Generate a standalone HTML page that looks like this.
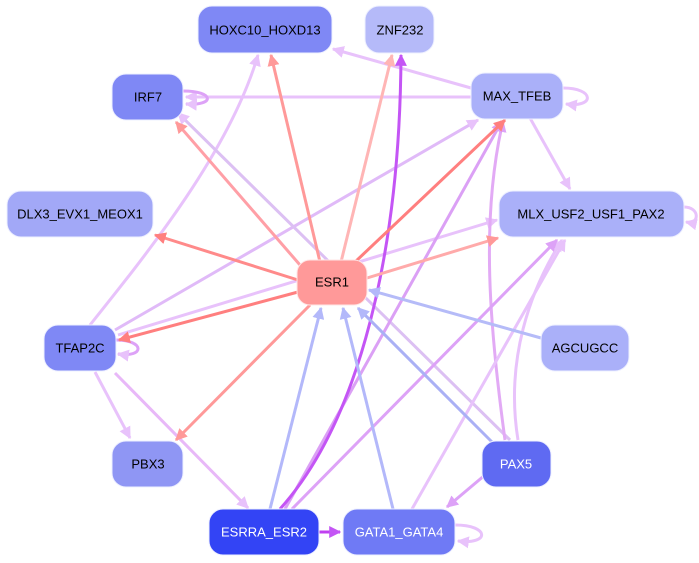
<!DOCTYPE html>
<html><head><meta charset="utf-8"><style>
html,body{margin:0;padding:0;background:#fff;width:699px;height:563px;overflow:hidden}
text{font-family:"Liberation Sans",Helvetica,sans-serif;font-size:13px;text-anchor:middle;dominant-baseline:central}
</style></head><body>
<svg width="699" height="563" viewBox="0 0 699 563" xmlns="http://www.w3.org/2000/svg">
<defs>
<marker id="mp" viewBox="0 0 10 10" refX="9" refY="5" markerWidth="4" markerHeight="4" orient="auto" markerUnits="strokeWidth"><path d="M0,0L10,5L0,10z" fill="#ff9999"/></marker>
<marker id="mr" viewBox="0 0 10 10" refX="9" refY="5" markerWidth="4" markerHeight="4" orient="auto" markerUnits="strokeWidth"><path d="M0,0L10,5L0,10z" fill="#ff7f7f"/></marker>
<marker id="ml" viewBox="0 0 10 10" refX="9" refY="5" markerWidth="4" markerHeight="4" orient="auto" markerUnits="strokeWidth"><path d="M0,0L10,5L0,10z" fill="#ffb5b5"/></marker>
<marker id="mb" viewBox="0 0 10 10" refX="9" refY="5" markerWidth="4" markerHeight="4" orient="auto" markerUnits="strokeWidth"><path d="M0,0L10,5L0,10z" fill="#b3b8fa"/></marker>
<marker id="mv" viewBox="0 0 10 10" refX="9" refY="5" markerWidth="4" markerHeight="4" orient="auto" markerUnits="strokeWidth"><path d="M0,0L10,5L0,10z" fill="#c455f5"/></marker>
<marker id="mq" viewBox="0 0 10 10" refX="9" refY="5" markerWidth="4" markerHeight="4" orient="auto" markerUnits="strokeWidth"><path d="M0,0L10,5L0,10z" fill="#dda2f7"/></marker>
<marker id="mk" viewBox="0 0 10 10" refX="9" refY="5" markerWidth="4" markerHeight="4" orient="auto" markerUnits="strokeWidth"><path d="M0,0L10,5L0,10z" fill="#e8c2fb"/></marker>
</defs>
<g fill="none" stroke-width="3">
<!-- light purple -->
<path d="M471,88 L333,49" stroke="#e8c2fb" marker-end="url(#mk)"/>
<path d="M471,97 L186,97" stroke="#e8c2fb" marker-end="url(#mk)"/>
<path d="M530,118 L570,189" stroke="#e8c2fb" marker-end="url(#mk)"/>
<path d="M563,88 C595,88 595,108 566,104" stroke="#e8c2fb" marker-end="url(#mk)"/>
<path d="M183,91 C215,91 215,106 186,104" stroke="#dda2f7" marker-end="url(#mk)"/>
<path d="M90,325 C150,250 230,150 258,55" stroke="#e8c2fb" marker-end="url(#mk)"/>
<path d="M115,330 L478,120" stroke="#e0baf8" marker-end="url(#mk)"/>
<path d="M118,335 L497,220" stroke="#e8c2fb" marker-end="url(#mk)"/>
<path d="M95,372 L130,438" stroke="#e8c2fb" marker-end="url(#mk)"/>
<path d="M115,373 L248,508" stroke="#e8b8f8" marker-end="url(#mk)"/>
<path d="M116,340 C145,340 145,358 118,354" stroke="#dda2f7" marker-end="url(#mk)"/>
<path d="M510,440 L178,113" stroke="#dcc0f3" marker-end="url(#mk)"/>
<path d="M505,440 C490,330 480,220 503,121" stroke="#e2aaf5" marker-end="url(#mq)"/>
<path d="M518,440 C505,360 530,290 562,240" stroke="#e8c2fb" marker-end="url(#mk)"/>
<path d="M485,475 L447,507" stroke="#dda2f7" marker-end="url(#mq)"/>
<path d="M412,509 L565,240" stroke="#e8c2fb" marker-end="url(#mk)"/>
<path d="M455,525 C490,525 490,545 458,541" stroke="#e8c2fb" marker-end="url(#mk)"/>
<path d="M684,207 C700,207 700,225 686,222" stroke="#e8c2fb" marker-end="url(#mk)"/>
<path d="M285,509 L502,121" stroke="#dba0f5" marker-end="url(#mq)"/>
<path d="M292,509 L557,240" stroke="#dda2f7" marker-end="url(#mq)"/>
<path d="M280,509 C360,420 400,250 401,55" stroke="#c455f5" marker-end="url(#mv)"/>
<path d="M319,532 L340,532" stroke="#c040f0" marker-end="url(#mv)"/>
<!-- blue into ESR1 -->
<path d="M270,509 L321,308" stroke="#b3b8fa" marker-end="url(#mb)"/>
<path d="M393,509 L343,308" stroke="#b3b8fa" marker-end="url(#mb)"/>
<path d="M492,442 L358,308" stroke="#aab0f5" marker-end="url(#mb)"/>
<path d="M541,338 L369,290" stroke="#b5bbf8" marker-end="url(#mb)"/>
<!-- ESR1 out -->
<path d="M320,262 L271,55" stroke="#ff9999" marker-end="url(#mp)"/>
<path d="M341,262 L392,55" stroke="#ffb5b5" marker-end="url(#ml)"/>
<path d="M300,265 L176,122" stroke="#ff9fa6" marker-end="url(#mp)"/>
<path d="M355,262 L505,120" stroke="#ff7f7f" marker-end="url(#mr)"/>
<path d="M298,280 L155,235" stroke="#ff8a8a" marker-end="url(#mr)"/>
<path d="M367,278 L498,238" stroke="#ffaaaa" marker-end="url(#mp)"/>
<path d="M298,292 L119,340" stroke="#ff7f7f" marker-end="url(#mr)"/>
<path d="M310,305 L176,440" stroke="#ff9999" marker-end="url(#mp)"/>
</g>
<g stroke="#eef0ff" stroke-width="1">
<rect x="198" y="6" width="134" height="47" rx="14" fill="#7f88f5"/>
<rect x="365" y="6" width="69" height="47" rx="14" fill="#b5baf9"/>
<rect x="112" y="74" width="71" height="46" rx="14" fill="#7f88f5"/>
<rect x="471" y="73" width="92" height="46" rx="14" fill="#aab0f9"/>
<rect x="7" y="191" width="146" height="46" rx="14" fill="#a2a8f7"/>
<rect x="499" y="191" width="185" height="46" rx="14" fill="#aab0f9"/>
<rect x="297" y="260" width="70" height="45" rx="13" fill="#ff9999" stroke="#ffe6e6"/>
<rect x="44" y="325" width="72" height="46" rx="14" fill="#7f88f5"/>
<rect x="541" y="325" width="88" height="46" rx="14" fill="#aab0f9"/>
<rect x="112" y="441" width="71" height="46" rx="14" fill="#8f96f4"/>
<rect x="482" y="441" width="69" height="46" rx="14" fill="#5f6af2"/>
<rect x="209" y="509" width="110" height="46" rx="14" fill="#3344f5"/>
<rect x="343" y="509" width="112" height="46" rx="14" fill="#6f7af5"/>
</g>
<g fill="#000">
<text x="265" y="30">HOXC10_HOXD13</text>
<text x="400" y="30">ZNF232</text>
<text x="148" y="97">IRF7</text>
<text x="517" y="96">MAX_TFEB</text>
<text x="80" y="214">DLX3_EVX1_MEOX1</text>
<text x="591" y="214">MLX_USF2_USF1_PAX2</text>
<text x="332" y="282">ESR1</text>
<text x="80" y="348">TFAP2C</text>
<text x="585" y="348">AGCUGCC</text>
<text x="148" y="464">PBX3</text>
<text x="516" y="464" fill="#fff">PAX5</text>
<text x="264" y="532" fill="#fff">ESRRA_ESR2</text>
<text x="399" y="532" fill="#fff">GATA1_GATA4</text>
</g>
</svg>
</body></html>
